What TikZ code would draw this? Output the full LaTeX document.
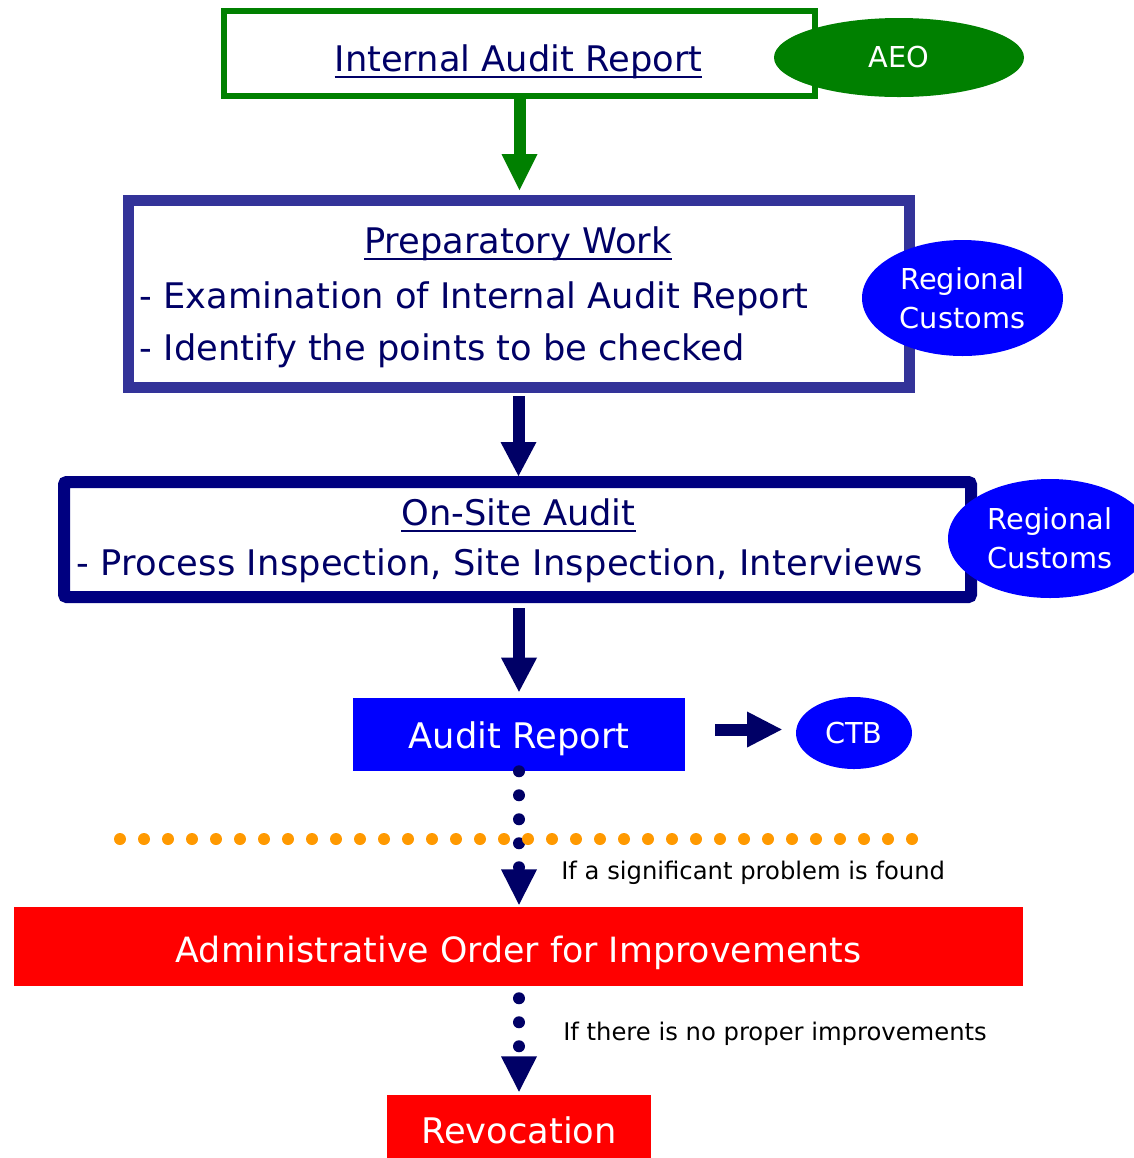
\documentclass[tikz,border=0pt]{standalone}
\usepackage{fontspec}
\setmainfont{DejaVu Sans}
\usetikzlibrary{arrows.meta,shapes.geometric}
\definecolor{aeogreen}{HTML}{008000}
\definecolor{prepblue}{HTML}{333399}
\definecolor{boxnavy}{HTML}{000080}
\definecolor{textnavy}{HTML}{000066}
\definecolor{pureblue}{HTML}{0000FF}
\definecolor{dotorange}{HTML}{FF9900}
\newcommand\bigf{\fontsize{26.45pt}{31pt}\selectfont}
\newcommand\midf{\fontsize{21.6pt}{29.25pt}\selectfont}
\newcommand\smf{\fontsize{18.2pt}{22pt}\selectfont}
\newcommand\ulinetext[1]{\setbox0\hbox{#1}\rlap{\rule[-5.2pt]{\wd0}{1.6pt}}\box0}
\begin{document}
\begin{tikzpicture}[x=0.75pt,y=-0.75pt,
  boxshape/.style={rectangle, inner sep=0pt},
  title/.style={inner sep=0pt, text=textnavy, font=\bigf},
  whitetitle/.style={inner sep=0pt, text=white, font=\bigf},
  oval/.style={ellipse, inner sep=0pt, text=white, font=\midf, align=center},
  lbl/.style={inner sep=0pt, text=black, font=\smf},
  bigarrow/.style={line width=9pt, -{Triangle[width=27pt,length=#1,line width=0pt]}},
  bigarrow/.default=26pt,
  dotline/.style={textnavy, line width=9pt, line cap=round, dash pattern=on 0pt off 18pt,
    -{Triangle[width=27pt,length=26.5pt,line width=0pt]}},
  orangedots/.style={dotorange, line width=9pt, line cap=round, dash pattern=on 0pt off 18pt}]
\clip (0,0) rectangle (1134,1158);
\fill[white] (0,0) rectangle (1134,1158);

% boxes
\node[boxshape, draw=aeogreen, line width=4.5pt, minimum width=443.25pt, minimum height=63.75pt] (iar) at (519.5,53.5) {};
\node[boxshape, draw=prepblue, line width=8.25pt, minimum width=585.75pt, minimum height=140.25pt] (prep) at (518.5,294) {};
\node[boxshape, draw=boxnavy, line width=9pt, rounded corners=2pt, minimum width=680.25pt, minimum height=86.25pt] (osa) at (517.5,539.5) {};
\node[boxshape, fill=pureblue, minimum width=249pt, minimum height=54.75pt] (ar) at (519,734.5) {};
\node[boxshape, fill=red, minimum width=756.75pt, minimum height=59.25pt] (aoi) at (518.5,946.5) {};
\node[boxshape, fill=red, minimum width=198pt, minimum height=52.5pt] (rev) at (519,1130) {};

% texts
\node[title, anchor=base] (iart) at (518.5,71) {\ulinetext{Internal Audit Report}};
\node[title, anchor=base] (prept) at (518,253) {\ulinetext{Preparatory Work}};
\node[title, anchor=base west] (prep1) at (139.5,308) {- Examination of Internal Audit Report};
\node[title, anchor=base west] (prep2) at (139.5,360) {- Identify the points to be checked};
\node[title, anchor=base] (osat) at (518.5,525) {\ulinetext{On-Site Audit}};
\node[title, anchor=base west] (osa1) at (76.5,575) {\addfontfeature{LetterSpace=0.45}- Process Inspection, Site Inspection, Interviews};
\node[whitetitle, anchor=base] (art) at (519,748) {Audit Report};
\node[whitetitle, anchor=base] (aoit) at (518.5,962) {\fontsize{26.1pt}{31pt}\selectfont Administrative Order for Improvements};
\node[whitetitle, anchor=base] (revt) at (519,1143) {Revocation};

% ellipses
\node[oval, fill=aeogreen, minimum width=187.5pt, minimum height=59.25pt] (aeo) at (899,57.5) {AEO};
\node[oval, fill=pureblue, minimum width=150.75pt, minimum height=87pt] (rc1) at (962.5,298) {Regional\\Customs};
\node[oval, fill=pureblue, minimum width=153pt, minimum height=89.25pt] (rc2) at (1050,538.5) {Regional\\Customs};
\node[oval, fill=pureblue, minimum width=87pt, minimum height=54pt] (ctb) at (854,733) {CTB};

% arrows
\draw[bigarrow=27pt, aeogreen, shorten >=3.75pt] (iar.south) -- (iar.south |- prep.north);
\draw[bigarrow=25.5pt, textnavy, shorten <=2.25pt] (prep.south) -- (prep.south |- osa.north);
\draw[bigarrow=25.5pt, textnavy, shorten <=3.75pt, shorten >=4.5pt] (ar.north |- osa.south) -- (ar.north);
\draw[bigarrow=26pt, textnavy, shorten <=22.5pt, shorten >=10.5pt] ([yshift=3.75pt]ar.east) -- ([yshift=3.75pt]ar.east -| ctb.west);

% dotted connectors
\draw[dotline, shorten >=1.5pt] (ar.south) -- (ar.south |- aoi.north);
\draw[dotline, shorten <=9pt, shorten >=2.25pt] (rev.north |- aoi.south) -- (rev.north);

% orange separator
\coordinate (od1) at (120,839);
\coordinate (od2) at (912.5,839);
\draw[orangedots] (od1) -- (od2);

% labels
\node[lbl, anchor=base west] (l1) at (561,879) {If a significant problem is found};
\node[lbl, anchor=base west] (l2) at (563,1040) {If there is no proper improvements};
\end{tikzpicture}
\end{document}
